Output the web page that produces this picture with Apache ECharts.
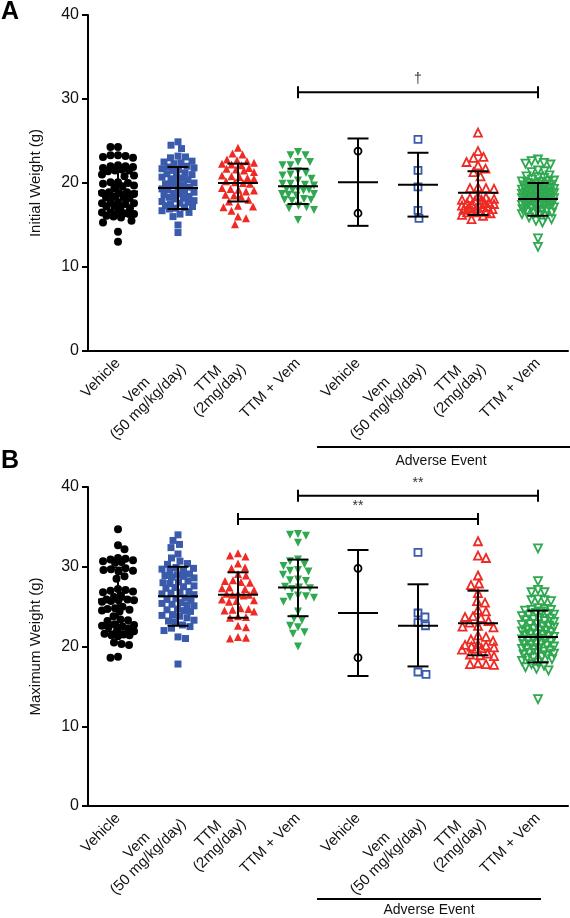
<!DOCTYPE html>
<html><head><meta charset="utf-8">
<script src="https://cdn.jsdelivr.net/npm/echarts@6/dist/echarts.min.js"></script>
<style>html,body{margin:0;padding:0;background:#fff}#c{width:570px;height:918px}</style>
</head><body><div id="c"></div>
<script>
// ---------------- data ----------------
const categories = ['Vehicle', 'Vem\n(50 mg/kg/day)', 'TTM\n(2mg/day)', 'TTM + Vem',
                    'Vehicle', 'Vem\n(50 mg/kg/day)', 'TTM\n(2mg/day)', 'TTM + Vem'];
const yTicks = [0, 10, 20, 30, 40];

// Panel A: Initial Weight (g)
const initVehicle = [24.3,24.3,23.3,23.1,23.2,23.0,23.3,22.0,21.9,22.1,21.8,22.0,21.5,21.6,21.4,21.5,20.9,21.0,20.8,20.1,20.0,19.9,20.1,19.6,19.5,19.7,18.9,18.8,18.8,18.9,18.7,18.3,18.2,18.4,18.3,17.6,17.7,17.5,17.6,17.7,17.1,17.2,17.0,17.2,16.5,16.4,16.3,16.5,16.4,16.3,16.0,15.9,16.1,15.5,15.3,14.2,13.0];
const initVem = [24.9,24.5,24.1,23.2,23.0,23.1,22.6,22.4,22.3,22.5,22.0,21.8,21.6,21.9,21.5,21.7,21.1,21.0,20.9,21.2,20.6,20.5,20.4,20.7,20.0,19.9,20.1,19.7,19.8,19.4,19.3,19.5,19.2,18.9,18.8,18.7,19.0,18.6,18.3,18.2,18.4,18.1,17.8,17.7,17.9,17.6,17.5,17.3,17.2,17.1,17.0,16.9,16.7,16.5,16.3,16.0,15.0,14.1];
const initTTM = [24.2,23.4,23.5,22.8,22.7,22.6,22.3,22.2,22.4,22.1,21.8,21.6,21.7,21.3,21.5,20.8,20.6,20.7,20.5,20.9,20.1,20.0,19.9,20.2,19.3,19.2,19.1,19.4,19.0,18.5,18.4,18.6,18.0,17.8,17.3,17.2,17.1,16.7,16.0,15.8,15.1];
const initTTMVem = [23.7,23.3,23.3,22.5,22.5,22.1,22.1,21.4,21.2,21.0,20.9,20.5,20.3,19.9,19.8,19.7,19.9,19.3,19.2,19.1,19.3,19.2,18.7,18.6,18.5,18.7,18.1,18.0,17.9,18.0,17.3,17.1,17.0,16.8,15.6];
const initAEVehicle = [23.8,16.4];
const initAEVem = [25.2,21.5,19.55,16.75,15.8];
const initAETTM = [26.0,23.8,23.1,23.0,22.5,22.1,21.7,21.3,20.8,19.5,19.4,19.3,19.4,18.4,18.2,18.0,18.1,18.3,17.9,18.0,17.7,17.5,17.6,17.4,17.6,17.3,17.5,17.1,17.0,16.9,17.0,16.8,17.2,16.6,16.5,16.7,16.4,16.5,16.6,16.2,16.1,15.7];
const initAETTMVem = [22.8,22.6,22.3,22.2,22.4,21.5,21.3,21.4,20.9,20.7,20.8,20.6,20.3,20.2,20.1,20.4,20.0,20.2,19.8,19.7,19.9,19.6,19.8,19.5,19.7,19.3,19.2,19.1,19.4,19.0,19.3,19.2,19.1,18.9,18.8,18.7,18.6,18.9,18.8,18.5,18.7,18.4,18.3,18.2,18.1,18.4,18.0,18.3,18.2,17.9,17.8,17.7,17.6,17.9,17.8,17.5,17.7,17.4,17.3,17.2,17.1,17.4,17.0,17.2,16.9,16.8,16.7,16.6,16.9,16.5,16.4,16.2,16.0,16.3,15.9,15.7,15.5,15.3,13.4,12.4];
const initMean = [19.0, 19.4, 20.0, 19.6, 20.1, 19.8, 18.85, 18.1];
const initLow  = [16.4, 16.9, 17.8, 17.5, 14.9, 16.0, 16.2, 16.1];
const initHigh = [21.7, 21.9, 22.3, 21.7, 25.3, 23.6, 21.4, 20.0];

// Panel B: Maximum Weight (g)
const maxVehicle = [34.7,32.7,32.2,31.1,30.9,30.7,30.8,30.5,31.0,30.6,29.8,29.5,29.6,29.4,29.7,28.8,28.5,27.2,27.0,26.8,26.9,27.1,26.4,26.2,25.9,25.8,25.7,25.9,25.6,25.8,25.0,24.8,24.6,24.5,24.7,24.4,23.8,23.3,23.2,23.4,22.8,22.6,22.4,22.5,22.3,22.7,22.0,21.9,21.5,21.4,21.3,21.6,21.4,20.5,20.3,20.2,18.7,18.6];
const maxVem = [34.0,33.3,32.8,32.4,31.6,31.1,30.7,30.3,30.4,29.8,29.6,29.9,29.5,29.7,29.1,28.9,29.0,28.8,28.6,28.7,28.2,28.0,27.9,28.1,27.6,27.4,27.5,27.3,26.9,26.7,26.8,26.5,26.6,26.1,25.9,26.0,25.8,25.4,25.2,25.3,25.1,25.5,24.7,24.5,24.6,24.4,24.0,23.8,23.9,23.6,23.3,23.1,23.2,22.7,22.5,22.3,22.0,21.2,21.0,17.8];
const maxTTM = [31.7,31.4,31.3,30.4,29.9,29.8,29.1,28.9,28.3,28.1,28.0,28.2,27.4,27.2,27.3,27.1,26.6,26.5,26.4,26.6,26.5,25.8,25.7,25.6,25.9,24.7,24.6,24.5,24.8,24.4,23.8,23.7,23.6,22.6,22.4,21.2,21.0,21.1];
const maxTTMVem = [34.0,33.9,34.1,33.0,30.9,30.7,30.3,30.1,29.6,29.4,29.5,29.0,28.4,28.3,28.2,27.4,27.3,27.2,27.5,26.3,26.2,26.1,26.4,25.6,24.4,23.5,23.3,22.6,22.4,21.8,21.6,20.0];
const maxAEVehicle = [29.8,18.6];
const maxAEVem = [31.8,24.2,23.7,23.0,22.6,16.8,16.5];
const maxAETTM = [33.2,31.4,31.1,28.9,27.9,27.7,26.7,25.7,25.5,24.6,24.4,23.8,23.7,23.6,23.2,23.0,22.6,22.5,22.4,21.4,21.2,20.9,20.7,20.3,20.2,20.1,20.0,19.9,19.8,19.7,19.6,19.1,19.0,18.9,18.8,17.9,17.8,17.7,17.8];
const maxAETTMVem = [32.3,28.2,27.1,26.8,26.8,25.9,25.8,25.7,25.8,24.8,24.6,24.5,24.7,24.4,24.6,24.2,24.0,23.9,24.1,23.8,23.5,23.3,23.4,23.2,23.1,23.5,22.8,22.7,22.6,22.5,22.8,22.4,22.2,22.0,21.9,22.1,21.8,22.0,21.6,21.5,21.4,21.3,21.6,21.2,21.0,20.9,20.8,20.7,21.0,20.6,20.4,20.3,20.2,20.1,20.4,20.0,19.8,19.7,19.6,19.5,19.8,19.4,19.2,19.1,19.0,18.9,19.2,18.7,18.6,18.5,18.4,18.2,18.0,17.8,17.6,17.4,17.2,17.0,13.4];
const maxMean = [25.9, 26.3, 26.5, 27.4, 24.2, 22.6, 22.9, 21.2];
const maxLow  = [21.9, 22.6, 23.6, 23.8, 16.3, 17.5, 18.9, 18.0];
const maxHigh = [29.9, 30.0, 29.3, 30.9, 32.1, 27.8, 27.0, 24.5];

// significance brackets: [fromCategory, toCategory, y, label]
const sigA = [[3, 7, 30.8, '\u2020']];
const sigB = [[3, 7, 38.9, '**'], [2, 6, 36.0, '**']];

// ---------------- styling / layout ----------------
const FONT = '"Liberation Sans", Arial, sans-serif';
const BLACK = '#000', BLUE = '#3a5aab', RED = '#ee2a24', GREEN = '#2fa84f';
const gridA = {left: 88, right: 2, top: 15, height: 336, outerBoundsMode: 'none'};
const gridB = {left: 88, right: 2, top: 487, height: 319, outerBoundsMode: 'none'};
const plotW = 570 - 88 - 2;
const bandPx = plotW / categories.length;

const groupStyles = [
  {symbol: 'circle', size: 8, fill: BLACK, stroke: null},
  {symbol: 'rect', size: 7, fill: BLUE, stroke: null},
  {symbol: 'triangle', size: 8, fill: RED, stroke: null},
  {symbol: 'triangle', size: 8, fill: GREEN, stroke: null, rot: 180},
  {symbol: 'circle', size: 7, fill: 'rgba(255,255,255,0)', stroke: BLACK},
  {symbol: 'rect', size: 7, fill: 'rgba(255,255,255,0)', stroke: BLUE},
  {symbol: 'triangle', size: 8, fill: 'rgba(255,255,255,0)', stroke: RED},
  {symbol: 'triangle', size: 8, fill: 'rgba(255,255,255,0)', stroke: GREEN, rot: 180}
];

// deterministic beeswarm layout (pixel offsets), computed from values
function swarm(values, pxPerUnit, d, maxW) {
  const order = values.map((v, i) => i).sort((a, b) => values[b] - values[a]);
  const placed = [], offs = new Array(values.length);
  const cands = [];
  for (let k = 0; k <= maxW; k += 0.5) { cands.push(k); if (k > 0) cands.push(-k); }
  let flip = 1;
  for (const i of order) {
    const y = values[i] * pxPerUnit;
    let best = 0, bestScore = -1;
    for (const c0 of cands) {
      const c = c0 * flip;
      let minD = Infinity;
      for (const p of placed) {
        const dy = p.y - y;
        if (Math.abs(dy) >= d) continue;
        const dist = Math.hypot(p.x - c, dy);
        if (dist < minD) minD = dist;
      }
      if (minD >= d) { best = c; bestScore = Infinity; break; }
      if (minD > bestScore) { bestScore = minD; best = c; }
    }
    flip = -flip;
    offs[i] = best;
    placed.push({x: best, y: y});
  }
  return offs;
}

function scatterSeries(groups, grid, xIdx, yIdx) {
  const pxPerUnit = grid.height / 40;
  return groups.map((vals, g) => {
    const st = groupStyles[g];
    const dense = vals.length > 60 ? 6.5 : (vals.length > 45 ? 7.4 : 8);
    const offs = swarm(vals, pxPerUnit, dense, 16);
    return {
      type: 'scatter', xAxisIndex: xIdx, yAxisIndex: yIdx, z: 2,
      symbol: st.symbol, symbolSize: st.size, symbolRotate: st.rot || 0,
      itemStyle: st.stroke ? {color: st.fill, borderColor: st.stroke, borderWidth: 1.8, opacity: 1}
                           : {color: st.fill, opacity: 1},
      silent: true, animation: false,
      data: vals.map((v, i) => [g + offs[i] / bandPx, v])
    };
  });
}

function errSeries(mean, low, high, xIdx, yIdx) {
  return {
    type: 'custom', xAxisIndex: xIdx, yAxisIndex: yIdx, z: 5, silent: true, animation: false,
    data: mean.map((m, i) => [i, m, low[i], high[i]]),
    encode: {x: 0, y: [1, 2, 3]},
    renderItem: function (params, api) {
      const c = api.coord([api.value(0), api.value(1)]);
      const t = api.coord([api.value(0), api.value(3)]);
      const b = api.coord([api.value(0), api.value(2)]);
      const hw = 20, cw = 10.5, ls = {stroke: '#000', lineWidth: 2};
      return {type: 'group', children: [
        {type: 'line', shape: {x1: c[0] - hw, y1: c[1], x2: c[0] + hw, y2: c[1]}, style: ls},
        {type: 'line', shape: {x1: t[0], y1: t[1], x2: b[0], y2: b[1]}, style: ls},
        {type: 'line', shape: {x1: t[0] - cw, y1: t[1], x2: t[0] + cw, y2: t[1]}, style: ls},
        {type: 'line', shape: {x1: b[0] - cw, y1: b[1], x2: b[0] + cw, y2: b[1]}, style: ls}
      ]};
    }
  };
}

function sigSeries(sig, xIdx, yIdx) {
  return {
    type: 'custom', xAxisIndex: xIdx, yAxisIndex: yIdx, z: 6, silent: true, animation: false,
    data: sig.map(s => [s[0], s[1], s[2], s[3]]),
    dimensions: ['x1', 'x2', 'y', 'label'],
    encode: {x: [0, 1], y: 2},
    renderItem: function (params, api) {
      const s = sig[params.dataIndex];
      const a = api.coord([s[0], s[2]]);
      const b = api.coord([s[1], s[2]]);
      const ls = {stroke: '#000', lineWidth: 2}, ch = 6;
      return {type: 'group', children: [
        {type: 'line', shape: {x1: a[0], y1: a[1], x2: b[0], y2: b[1]}, style: ls},
        {type: 'line', shape: {x1: a[0], y1: a[1] - ch, x2: a[0], y2: a[1] + ch}, style: ls},
        {type: 'line', shape: {x1: b[0], y1: b[1] - ch, x2: b[0], y2: b[1] + ch}, style: ls},
        {type: 'text', x: (a[0] + b[0]) / 2, y: a[1] - 6,
         style: {text: s[3], font: '14px ' + FONT, fill: '#333', align: 'center', verticalAlign: 'bottom'}}
      ]};
    }
  };
}

// per-label widths so that multi-line labels are centred line by line, block ending at tick
const LABEL_FS = 15;
const meas = document.createElement('canvas').getContext('2d');
meas.font = LABEL_FS + 'px "Liberation Sans"';
function catData() {
  return categories.map(c => {
    const w = Math.max.apply(null, c.split('\n').map(l => meas.measureText(l).width));
    return {value: c, textStyle: {align: 'center', verticalAlign: 'middle', padding: [0, w, 0, 0]}};
  });
}

function catAxis(gridIndex) {
  return {
    type: 'category', gridIndex: gridIndex, data: catData(), boundaryGap: true,
    axisLine: {onZero: false, lineStyle: {color: '#000', width: 2}},
    axisTick: {alignWithLabel: true, length: 6, lineStyle: {color: '#000', width: 2}},
    axisLabel: {rotate: 45, interval: 0, margin: 10, fontSize: LABEL_FS, fontFamily: FONT, color: '#111', lineHeight: 16},
    splitLine: {show: false}
  };
}
function valXAxis(gridIndex) {
  return {type: 'value', gridIndex: gridIndex, min: -0.5, max: categories.length - 0.5, show: false};
}
function valYAxis(gridIndex, name) {
  return {
    type: 'value', gridIndex: gridIndex, min: yTicks[0], max: yTicks[yTicks.length - 1], interval: 10,
    name: name, nameLocation: 'middle', nameGap: 45, nameRotate: 90,
    nameTextStyle: {fontSize: 15, fontFamily: FONT, color: '#111'},
    axisLine: {show: true, onZero: false, lineStyle: {color: '#000', width: 2}},
    axisTick: {show: true, length: 6, lineStyle: {color: '#000', width: 2}},
    axisLabel: {fontSize: 16, fontFamily: FONT, color: '#111', margin: 9},
    splitLine: {show: false}
  };
}

const groupsA = [initVehicle, initVem, initTTM, initTTMVem, initAEVehicle, initAEVem, initAETTM, initAETTMVem];
const groupsB = [maxVehicle, maxVem, maxTTM, maxTTMVem, maxAEVehicle, maxAEVem, maxAETTM, maxAETTMVem];

const option = {
  backgroundColor: '#fff',
  animation: false,
  grid: [gridA, gridB],
  xAxis: [catAxis(0), valXAxis(0), catAxis(1), valXAxis(1)],
  yAxis: [valYAxis(0, 'Initial Weight (g)'), valYAxis(1, 'Maximum Weight (g)')],
  series: [].concat(
    scatterSeries(groupsA, gridA, 1, 0),
    [errSeries(initMean, initLow, initHigh, 1, 0), sigSeries(sigA, 1, 0)],
    scatterSeries(groupsB, gridB, 3, 1),
    [errSeries(maxMean, maxLow, maxHigh, 3, 1), sigSeries(sigB, 3, 1)]
  ),
  graphic: [
    {type: 'text', left: 1, top: 0, style: {text: 'A', font: 'bold 25px ' + FONT, fill: '#000'}},
    {type: 'text', left: 1, top: 449, style: {text: 'B', font: 'bold 25px ' + FONT, fill: '#000'}},
    {type: 'line', shape: {x1: 317, y1: 447, x2: 570, y2: 447}, style: {stroke: '#000', lineWidth: 2}},
    {type: 'text', x: 441, y: 461, style: {text: 'Adverse Event', font: '14px ' + FONT, fill: '#111', align: 'center', verticalAlign: 'middle'}},
    {type: 'line', shape: {x1: 317, y1: 899, x2: 541, y2: 899}, style: {stroke: '#000', lineWidth: 2}},
    {type: 'text', x: 429, y: 910, style: {text: 'Adverse Event', font: '14px ' + FONT, fill: '#111', align: 'center', verticalAlign: 'middle'}}
  ]
};

const chart = echarts.init(document.getElementById('c'), null, {renderer: 'canvas'});
chart.setOption(option);
</script>
</body></html>
